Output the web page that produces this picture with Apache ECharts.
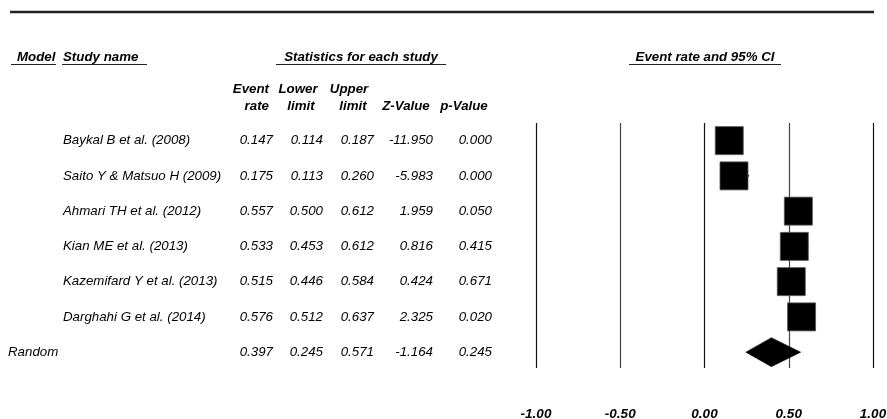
<!DOCTYPE html>
<html>
<head>
<meta charset="utf-8">
<script src="https://cdn.jsdelivr.net/npm/echarts@6/dist/echarts.min.js"></script>
<style>html,body{margin:0;padding:0;background:#fff;}#c{width:887px;height:419px;}</style>
</head>
<body>
<div id="c"></div>
<script>
const models = ['', '', '', '', '', '', 'Random'];
const studies = ['Baykal B et al. (2008)', 'Saito Y & Matsuo H (2009)', 'Ahmari TH et al. (2012)', 'Kian ME et al. (2013)', 'Kazemifard Y et al. (2013)', 'Darghahi G et al. (2014)', ''];
const eventRate = [0.147, 0.175, 0.557, 0.533, 0.515, 0.576, 0.397];
const lowerLimit = [0.114, 0.113, 0.500, 0.453, 0.446, 0.512, 0.245];
const upperLimit = [0.187, 0.260, 0.612, 0.612, 0.584, 0.637, 0.571];
const zValue = [-11.950, -5.983, 1.959, 0.816, 0.424, 2.325, -1.164];
const pValue = [0.000, 0.000, 0.050, 0.415, 0.671, 0.020, 0.245];
const isSummary = [0, 0, 0, 0, 0, 0, 1];
const xTicks = [-1, -0.5, 0, 0.5, 1];

const FONT = 'Liberation Sans, Arial, sans-serif';
const FS = 13.3;
const rowData = studies.map((s, i) => [eventRate[i], lowerLimit[i], upperLimit[i], i + 1, isSummary[i], i]);

function txt(x, y, text, align, bold) {
  return {
    type: 'text',
    style: {
      x: x, y: y, text: text, align: align, verticalAlign: 'middle',
      fontFamily: FONT, fontSize: FS, fontStyle: 'italic', fontWeight: bold ? 'bold' : 'normal', fill: '#000'
    }
  };
}

const chart = echarts.init(document.getElementById('c'));
chart.setOption({
  backgroundColor: '#fff',
  animation: false,
  grid: { left: 536, right: 14, top: 123, height: 245, containLabel: false, outerBoundsMode: 'none' },
  xAxis: {
    type: 'value', min: -1, max: 1, interval: 0.5,
    axisLine: { show: false }, axisTick: { show: false },
    splitLine: { show: true, lineStyle: { color: ['#111', '#444'], width: 1.2 } },
    axisLabel: {
      margin: 39.5, color: '#000', fontFamily: FONT, fontSize: 13.5, fontStyle: 'italic', fontWeight: 'bold',
      formatter: v => v.toFixed(2)
    }
  },
  yAxis: { type: 'value', min: 0.5, max: 7.45, inverse: true, show: false, splitLine: { show: false } },
  graphic: [
    { type: 'line', shape: { x1: 10, y1: 12, x2: 874, y2: 12 }, style: { stroke: '#222', lineWidth: 2.5 } },
    txt(17, 57, 'Model', 'left', true),
    { type: 'line', shape: { x1: 11, y1: 64.5, x2: 56, y2: 64.5 }, style: { stroke: '#222', lineWidth: 1 } },
    txt(63, 57, 'Study name', 'left', true),
    { type: 'line', shape: { x1: 62, y1: 64.5, x2: 147, y2: 64.5 }, style: { stroke: '#222', lineWidth: 1 } },
    txt(361, 57, 'Statistics for each study', 'center', true),
    { type: 'line', shape: { x1: 276, y1: 64.5, x2: 446, y2: 64.5 }, style: { stroke: '#222', lineWidth: 1 } },
    txt(705, 57, 'Event rate and 95% CI', 'center', true),
    { type: 'line', shape: { x1: 629, y1: 64.5, x2: 781, y2: 64.5 }, style: { stroke: '#222', lineWidth: 1 } },
    txt(269, 89, 'Event', 'right', true),
    txt(269, 106, 'rate', 'right', true),
    txt(298, 89, 'Lower', 'center', true),
    txt(301, 106, 'limit', 'center', true),
    txt(349, 89, 'Upper', 'center', true),
    txt(353, 106, 'limit', 'center', true),
    txt(406, 106, 'Z-Value', 'center', true),
    txt(464, 106, 'p-Value', 'center', true)
  ],
  series: [
    {
      type: 'custom',
      name: 'table',
      clip: false,
      silent: true,
      data: rowData,
      renderItem: function (params, api) {
        const i = api.value(5);
        const y = api.coord([0, api.value(3)])[1];
        return {
          type: 'group',
          children: [
            txt(8, y, models[i], 'left', false),
            txt(63, y, studies[i], 'left', false),
            txt(273, y, eventRate[i].toFixed(3), 'right', false),
            txt(323, y, lowerLimit[i].toFixed(3), 'right', false),
            txt(374, y, upperLimit[i].toFixed(3), 'right', false),
            txt(433, y, zValue[i].toFixed(3), 'right', false),
            txt(492, y, pValue[i].toFixed(3), 'right', false)
          ]
        };
      }
    },
    {
      type: 'custom',
      name: 'forest',
      clip: false,
      silent: true,
      data: rowData,
      renderItem: function (params, api) {
        const row = api.value(3);
        const c = api.coord([api.value(0), row]);
        const lo = api.coord([api.value(1), row]);
        const hi = api.coord([api.value(2), row]);
        if (api.value(4) === 1) {
          return {
            type: 'polygon',
            shape: { points: [[lo[0], c[1]], [c[0], c[1] - 14.5], [hi[0], c[1]], [c[0], c[1] + 14.5]] },
            style: { fill: '#000', stroke: '#000', lineWidth: 0.5 }
          };
        }
        const s = 28;
        return {
          type: 'group',
          children: [
            { type: 'line', shape: { x1: lo[0], y1: c[1], x2: hi[0] + 0.8, y2: c[1] }, style: { stroke: '#000', lineWidth: 1.5 } },
            { type: 'rect', shape: { x: c[0] - s / 2, y: c[1] - s / 2, width: s, height: s }, style: { fill: '#000', stroke: '#555', lineWidth: 0.8 } }
          ]
        };
      }
    }
  ]
});
</script>
</body>
</html>
